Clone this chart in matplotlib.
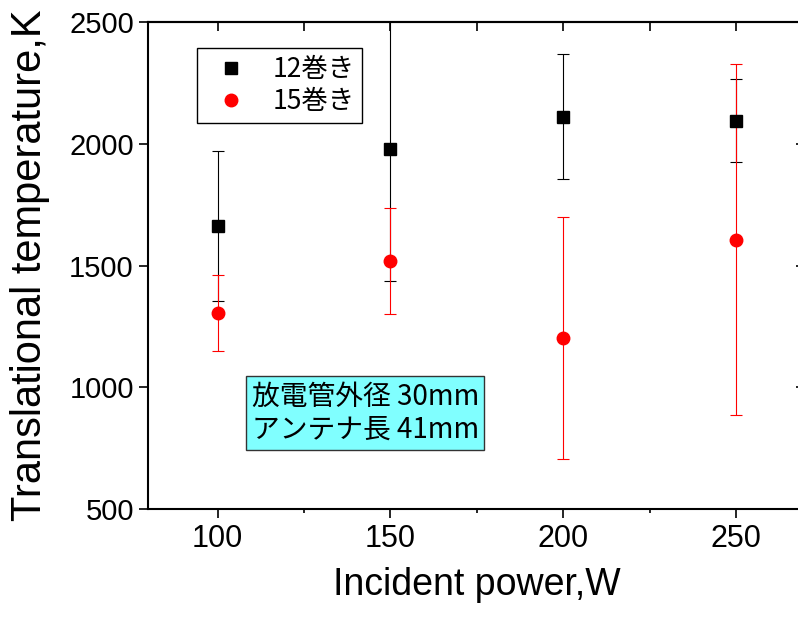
import matplotlib
matplotlib.use('Agg')
import matplotlib.pyplot as plt
from matplotlib.ticker import MultipleLocator

power = [100, 150, 200, 250]  # W
temp_12 = [1662, 1981, 2112, 2096]
err_12 = [308, 546, 257, 170]
temp_15 = [1304, 1518, 1202, 1607]
err_15 = [156, 217, 497, 721]
labels = ['12巻き', '15巻き']
note = '放電管外径 30mm\nアンテナ長 41mm'

jp = ['Noto Sans CJK JP', 'DejaVu Sans']


def main():
    fig = plt.figure(figsize=(7.98, 6.17), dpi=100)
    ax = fig.add_axes([0.186, 0.175, 0.8233, 0.789])

    ax.errorbar(power, temp_12, yerr=err_12, fmt='none', ecolor='black',
                elinewidth=0.8, capsize=4.5, capthick=0.8, zorder=2)
    ax.errorbar(power, temp_15, yerr=err_15, fmt='none', ecolor='red',
                elinewidth=0.8, capsize=4.5, capthick=0.8, zorder=2)
    ax.plot(power, temp_12, 's', color='black', ms=8.5, label=labels[0], zorder=3)
    ax.plot(power, temp_15, 'o', color='red', ms=9, label=labels[1], zorder=3)

    ax.set_xlim(80, 270)
    ax.set_ylim(500, 2500)
    ax.xaxis.set_major_locator(MultipleLocator(50))
    ax.xaxis.set_minor_locator(MultipleLocator(25))
    ax.yaxis.set_major_locator(MultipleLocator(500))

    for s in ax.spines.values():
        s.set_linewidth(1.5)
    ax.tick_params(axis='both', which='major', direction='out', length=6.5, width=1.2,
                   labelsize=21, pad=4)
    ax.tick_params(axis='x', which='minor', direction='out', length=3, width=1.2)
    for lab in ax.get_xticklabels() + ax.get_yticklabels():
        lab.set_fontfamily('Liberation Sans')
    for lab in ax.get_xticklabels():
        lab.set_fontsize(22)

    top = ax.secondary_xaxis('top')
    top.xaxis.set_major_locator(MultipleLocator(25))
    top.tick_params(direction='in', length=6.5, width=1.2, labeltop=False)
    top.spines['top'].set_linewidth(1.5)
    right = ax.secondary_yaxis('right')
    right.yaxis.set_major_locator(MultipleLocator(500))
    right.tick_params(direction='in', length=6.5, width=1.2, labelright=False)
    right.spines['right'].set_linewidth(1.5)

    ax.set_xlabel('Incident power,W', fontsize=27, family='Liberation Sans', labelpad=10)
    ax.set_ylabel('Translational temperature,K', fontsize=30, family='Liberation Sans',
                  labelpad=14)

    leg = ax.legend(loc='upper left', bbox_to_anchor=(0.074, 0.947), borderaxespad=0,
                    fancybox=False, edgecolor='black', framealpha=1,
                    prop={'family': jp, 'size': 19}, handletextpad=0.55,
                    borderpad=0.3, labelspacing=0.2, handlelength=2.0)
    leg.get_frame().set_linewidth(1.0)

    ax.text(0.330, 0.197, note, transform=ax.transAxes, ha='center', va='center',
            family=jp, fontsize=20, linespacing=1.1,
            bbox=dict(boxstyle='square,pad=0.2', facecolor='#80ffff',
                      edgecolor='#333333', linewidth=1.0))

    fig.savefig('out.png', dpi=100)


if __name__ == '__main__':
    main()
